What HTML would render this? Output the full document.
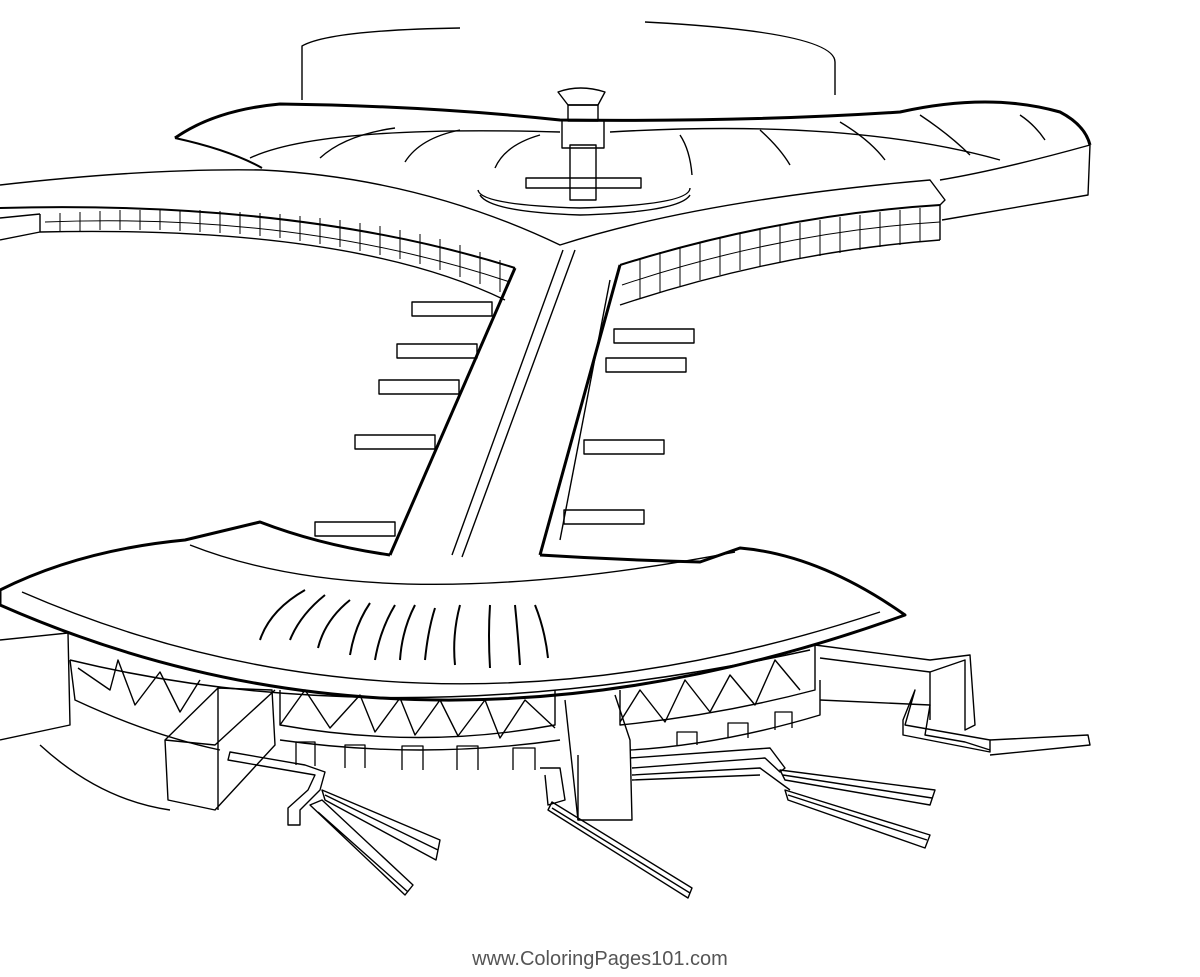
<!DOCTYPE html>
<html><head><style>
html,body{margin:0;padding:0;background:#fff;width:1200px;height:977px;overflow:hidden}
svg{display:block}
text{font-family:"Liberation Sans",sans-serif}
</style></head><body>
<svg width="1200" height="977" viewBox="0 0 1200 977" fill="none" stroke="#000" stroke-width="1.4" stroke-linejoin="round">
<!-- cylinder -->
<path d="M302,100 L302,46 Q330,30 460,28"/>
<path d="M645,22 Q835,32 835,62 L835,95"/>
<!-- upper roof -->
<path d="M175,138 Q215,110 280,104 Q430,106 560,120 Q750,122 900,112 Q990,92 1060,112 Q1085,125 1090,145" stroke-width="3"/>
<path d="M175,138 Q230,150 262,168" stroke-width="2"/>
<path d="M250,158 Q320,125 560,132"/>
<path d="M610,132 Q850,118 1000,160"/>
<path d="M320,158 Q345,135 395,128"/><path d="M405,162 Q420,138 460,130"/>
<path d="M495,168 Q505,145 540,135"/><path d="M680,135 Q690,150 692,175"/>
<path d="M760,130 Q780,148 790,165"/><path d="M840,122 Q870,140 885,160"/>
<path d="M920,115 Q950,135 970,155"/><path d="M1020,115 Q1035,125 1045,140"/>
<path d="M1090,145 L1088,195 L942,220"/>
<path d="M1090,145 Q1000,170 940,180"/>
<path d="M0,185 Q150,168 262,170 Q420,178 560,245 Q700,200 930,180 L945,200 L940,205"/>
<!-- tower -->
<path d="M480,195 Q490,212 580,215 Q680,212 690,195"/>
<path d="M478,190 Q480,205 580,208 Q690,205 690,188"/>
<rect x="526" y="178" width="115" height="10"/>
<rect x="570" y="145" width="26" height="55"/>
<rect x="562" y="120" width="42" height="28"/>
<path d="M558,92 Q580,84 605,92 L598,105 L568,105 Z"/>
<rect x="568" y="105" width="30" height="16"/>
<!-- left grid band -->
<path d="M0,208 Q300,200 515,268" stroke-width="2"/>
<path d="M0,218 L40,214"/>
<path d="M0,240 L40,232 Q350,225 505,300"/>
<path d="M40,214 L40,232"/>
<g stroke-width="1">
<path d="M60,213 L60,232 M80,212 L80,231 M100,211 L100,230 M120,210 L120,230 M140,210 L140,230 M160,210 L160,230 M180,210 L180,231 M200,210 L200,232 M220,211 L220,233 M240,212 L240,234 M260,213 L260,236 M280,214 L280,238 M300,216 L300,241 M320,218 L320,244 M340,220 L340,247 M360,223 L360,251 M380,226 L380,255 M400,230 L400,259 M420,234 L420,264 M440,239 L440,270 M460,245 L460,277 M480,252 L480,284 M500,260 L500,292"/>
<path d="M45,222 Q300,212 510,282"/>
</g>
<!-- right grid band -->
<path d="M620,265 Q780,215 940,205" stroke-width="2"/>
<path d="M620,305 Q780,252 940,240"/>
<path d="M940,205 L940,240"/>
<g stroke-width="1">
<path d="M640,258 L640,298 M660,252 L660,292 M680,247 L680,286 M700,242 L700,280 M720,237 L720,275 M740,233 L740,270 M760,229 L760,266 M780,226 L780,262 M800,223 L800,259 M820,220 L820,256 M840,217 L840,253 M860,215 L860,250 M880,212 L880,247 M900,210 L900,245 M920,208 L920,242"/>
<path d="M622,285 Q780,232 940,222"/>
</g>
<!-- stem -->
<path d="M515,268 L390,555" stroke-width="3"/>
<path d="M620,265 L540,555" stroke-width="3"/>
<path d="M563,250 L452,555 M575,250 L462,557"/>
<path d="M610,280 L560,540"/>
<rect x="412" y="302" width="80" height="14"/><rect x="397" y="344" width="80" height="14"/>
<rect x="379" y="380" width="80" height="14"/><rect x="355" y="435" width="80" height="14"/>
<rect x="315" y="522" width="80" height="14"/>
<rect x="614" y="329" width="80" height="14"/><rect x="606" y="358" width="80" height="14"/>
<rect x="584" y="440" width="80" height="14"/><rect x="564" y="510" width="80" height="14"/>
<!-- lower roof -->
<path d="M390,555 Q320,545 260,522 L185,540 Q80,550 0,590 L0,605 Q420,790 905,615 Q820,555 740,548 L700,562 Q620,560 540,555" stroke-width="3"/>
<path d="M22,592 Q420,765 880,612"/>
<path d="M190,545 Q380,620 735,552"/>
<path d="M70,660 Q400,740 810,650" stroke-width="1.5"/>
<g stroke-width="2">
<path d="M260,640 Q270,610 305,590"/><path d="M290,640 Q300,615 325,595"/><path d="M318,648 Q325,620 350,600"/>
<path d="M350,655 Q355,625 370,603"/><path d="M375,660 Q380,630 395,605"/><path d="M400,660 Q402,630 415,605"/>
<path d="M425,660 Q428,630 435,608"/><path d="M455,665 Q452,635 460,605"/><path d="M490,668 Q488,635 490,605"/>
<path d="M520,665 Q518,635 515,605"/><path d="M548,658 Q545,630 535,605"/>
</g>
<!-- lower facade -->
<path d="M0,640 L68,633 L70,725 L0,740"/>
<path d="M70,660 L75,700 Q150,735 220,750"/>
<path d="M40,745 Q100,800 170,810"/>
<path d="M78,668 L110,690 L118,660 L135,705 L160,672 L180,712 L200,680"/>
<path d="M280,690 L280,725 Q420,750 555,725 L555,690"/>
<path d="M280,725 L305,690 L330,728 L360,695 L375,732 L400,698 L415,735 L440,700 L458,736 L485,700 L500,738 L525,700 L555,728"/>
<path d="M280,740 Q420,760 560,740"/>
<path d="M620,690 L620,725 Q720,715 815,690 L815,645"/>
<path d="M620,722 L640,690 L665,722 L685,680 L710,712 L730,675 L755,705 L775,660 L800,690"/>
<path d="M630,750 Q720,745 820,715 L820,680"/>
<g stroke-width="1.3">
<path d="M296,765 L296,742 L315,742 L315,766 M345,768 L345,745 L365,745 L365,768 M402,770 L402,746 L423,746 L423,770 M457,770 L457,746 L478,746 L478,770 M513,770 L513,748 L535,748 L535,770"/>
<path d="M677,745 L677,732 L697,732 L697,745 M728,738 L728,723 L748,723 L748,738 M775,730 L775,712 L792,712 L792,728"/>
</g>
<path d="M165,740 L168,800 L215,810 L275,745 L272,690 L218,688 L165,740 Z M218,688 L218,810 M165,740 L215,745 L275,690"/>
<path d="M565,700 L578,820 L632,820 L630,740 L615,695"/>
<path d="M578,755 L578,820"/>
<path d="M815,645 L930,660 L970,655 L975,725 L965,730 L965,660 L930,672 L820,658"/>
<path d="M820,700 L930,705 L925,735 L965,742 L990,750"/>
<path d="M930,672 L930,720 M903,720 L915,690 L905,725 L990,740 L990,752 L903,735 Z"/>
<path d="M990,740 L1088,735 L1090,745 L990,755"/>
<path d="M230,752 L305,765 L325,772 L320,790 L300,810 L300,825 L288,825 L288,808 L308,790 L315,775 L228,760 Z"/>
<path d="M310,805 L405,895 L413,885 L322,800 Z M318,812 L408,892"/>
<path d="M322,790 L440,840 L436,860 L325,800 Z M325,795 L438,850"/>
<path d="M540,768 L560,768 L565,800 L548,805 L545,775"/>
<path d="M548,810 L688,898 L692,888 L552,802 Z M552,808 L690,893"/>
<path d="M630,758 L770,748 L785,768 L780,772 L765,758 L632,768"/>
<path d="M632,775 L760,768 L790,790 M632,780 L760,775"/>
<path d="M780,770 L935,790 L930,805 L785,780 Z M783,775 L932,798"/>
<path d="M785,790 L930,835 L925,848 L788,800 Z M788,795 L927,840"/>
<text x="600" y="965" font-size="20" fill="#555" stroke="none" text-anchor="middle">www.ColoringPages101.com</text>
</svg>
</body></html>
